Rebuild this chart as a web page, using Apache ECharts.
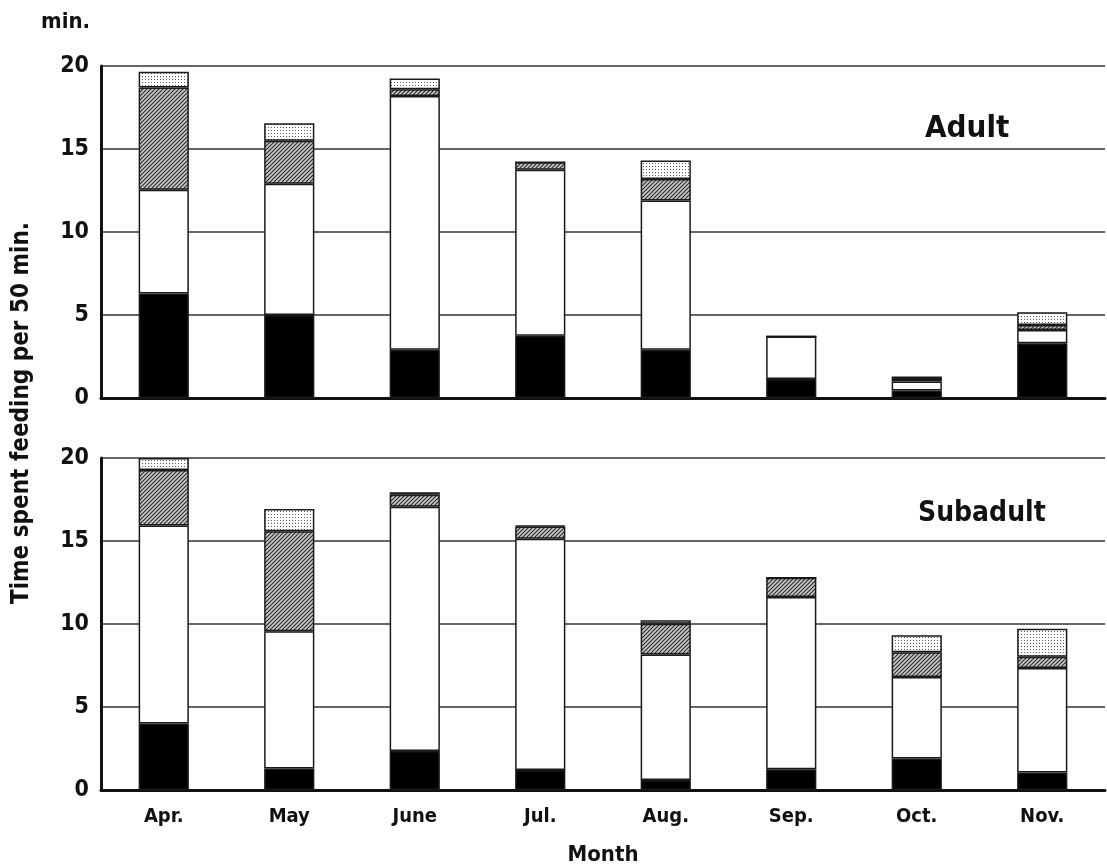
<!DOCTYPE html>
<html>
<head>
<meta charset="utf-8">
<script src="https://cdn.jsdelivr.net/npm/echarts@6/dist/echarts.min.js"></script>
<style>
  html, body { margin: 0; padding: 0; background: #fff; }
  #chart { width: 1107px; height: 867px; }
</style>
</head>
<body>
<div id="chart"></div>
<script>
const months = ['Apr.', 'May', 'June', 'Jul.', 'Aug.', 'Sep.', 'Oct.', 'Nov.'];

// Adult (top panel), bottom segment first
const adultBlack = [6.3, 5.0, 2.9, 3.75, 2.9, 1.15, 0.45, 3.3];
const adultWhite = [6.25, 7.9, 15.3, 10.0, 9.0, 2.55, 0.55, 0.8];
const adultHatch = [6.15, 2.6, 0.4, 0.45, 1.3, 0, 0.15, 0.3];
const adultDots = [0.95, 1.05, 0.65, 0, 1.1, 0, 0.15, 0.77];

// Subadult (bottom panel)
const subBlack = [4.0, 1.3, 2.35, 1.2, 0.6, 1.25, 1.9, 1.05];
const subWhite = [11.93, 8.26, 14.72, 13.93, 7.56, 10.37, 4.91, 6.3];
const subHatch = [3.35, 6.03, 0.71, 0.74, 1.86, 1.17, 1.49, 0.67];
const subDots = [0.72, 1.34, 0.16, 0.06, 0.2, 0, 1.02, 1.7];

const FONT = "'DejaVu Sans Condensed', 'Liberation Sans', sans-serif";

function hatchPattern() {
    const c = document.createElement('canvas');
    c.width = 4; c.height = 4;
    const ctx = c.getContext('2d');
    ctx.fillStyle = '#c8c8c8';
    ctx.fillRect(0, 0, 4, 4);
    ctx.strokeStyle = '#2a2a2a';
    ctx.lineWidth = 1.1;
    ctx.beginPath();
    ctx.moveTo(0, 4); ctx.lineTo(4, 0);
    ctx.moveTo(-1, 1); ctx.lineTo(1, -1);
    ctx.moveTo(3, 5); ctx.lineTo(5, 3);
    ctx.stroke();
    return { image: c, repeat: 'repeat' };
}

function dotPattern() {
    const c = document.createElement('canvas');
    c.width = 3; c.height = 3;
    const ctx = c.getContext('2d');
    ctx.fillStyle = '#ffffff';
    ctx.fillRect(0, 0, 3, 3);
    ctx.fillStyle = '#555555';
    ctx.fillRect(1, 1, 1, 1);
    return { image: c, repeat: 'repeat' };
}

const fills = ['#000000', '#ffffff', hatchPattern(), dotPattern()];

const chart = echarts.init(document.getElementById('chart'), null, { renderer: 'canvas' });

function xAxisFor(idx, showLabels) {
    return {
        type: 'category',
        gridIndex: idx,
        data: months,
        axisTick: { show: false },
        axisLine: { lineStyle: { color: '#111', width: 3 } },
        axisLabel: {
            show: showLabels,
            color: '#111',
            fontFamily: FONT,
            fontWeight: 'bold',
            fontSize: 20,
            margin: 17
        },
        name: showLabels ? 'Month' : '',
        nameLocation: 'middle',
        nameGap: 54,
        nameTextStyle: { color: '#111', fontFamily: FONT, fontWeight: 'bold', fontSize: 22 }
    };
}

function yAxisFor(idx) {
    return {
        type: 'value',
        gridIndex: idx,
        min: 0,
        max: 20,
        interval: 5,
        axisTick: { show: false },
        axisLine: { show: true, lineStyle: { color: '#111', width: 3 } },
        axisLabel: { color: '#111', fontFamily: FONT, fontWeight: 'bold', fontSize: 23, margin: 12 },
        splitLine: { lineStyle: { color: '#333', width: 1.5 } }
    };
}

function stackSeries(idx, stackName, arrays) {
    return arrays.map((arr, i) => ({
        type: 'bar',
        xAxisIndex: idx,
        yAxisIndex: idx,
        stack: stackName,
        barWidth: '40%',
        data: arr,
        silent: true,
        itemStyle: {
            color: fills[i],
            borderColor: '#1a1a1a',
            borderWidth: 1.5
        }
    }));
}

const option = {
    animation: false,
    backgroundColor: '#fff',
    grid: [
        { left: 101, right: 2, top: 66, height: 332 },
        { left: 101, right: 2, top: 458, height: 332 }
    ],
    xAxis: [xAxisFor(0, false), xAxisFor(1, true)],
    yAxis: [yAxisFor(0), yAxisFor(1)],
    series: [
        ...stackSeries(0, 'adult', [adultBlack, adultWhite, adultHatch, adultDots]),
        ...stackSeries(1, 'sub', [subBlack, subWhite, subHatch, subDots])
    ],
    graphic: [
        {
            type: 'text', left: 41, top: 11,
            style: { text: 'min.', fill: '#111', font: `bold 22px ${FONT}` }
        },
        {
            type: 'text', left: 925, top: 113,
            style: { text: 'Adult', fill: '#111', font: `bold 31px ${FONT}` }
        },
        {
            type: 'text', left: 918, top: 500,
            style: { text: 'Subadult', fill: '#111', font: `bold 28px ${FONT}` }
        },
        {
            type: 'text', x: 22, y: 413, rotation: Math.PI / 2,
            style: {
                text: 'Time spent feeding per 50 min.',
                fill: '#111',
                font: `bold 24px ${FONT}`,
                align: 'center',
                verticalAlign: 'middle'
            }
        }
    ]
};

chart.setOption(option);
</script>
</body>
</html>
